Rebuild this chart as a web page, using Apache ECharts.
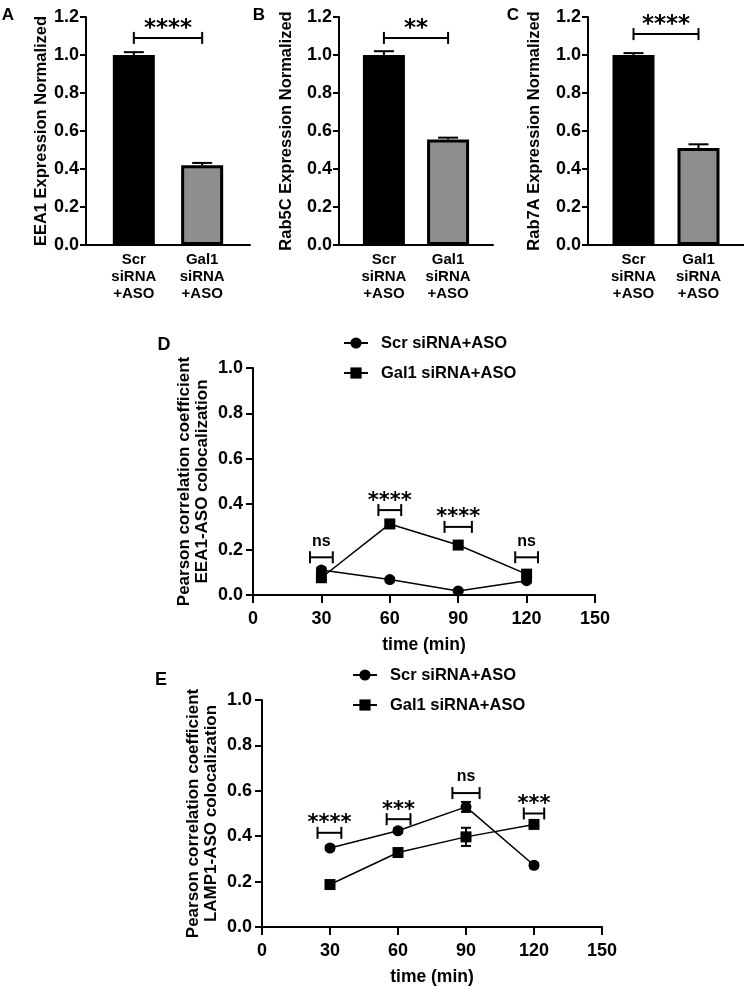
<!DOCTYPE html>
<html><head><meta charset="utf-8">
<script src="https://cdn.jsdelivr.net/npm/echarts@6/dist/echarts.min.js"></script>
<style>html,body{margin:0;padding:0;background:#fff}#c{width:744px;height:988px}</style>
</head><body><div id="c"></div>
<script>
// ---------- data ----------
const barCategories = ['Scr\nsiRNA\n+ASO', 'Gal1\nsiRNA\n+ASO'];
const barTitles = ['EEA1 Expression Normalized', 'Rab5C Expression Normalized', 'Rab7A Expression Normalized'];
const panelLabels = ['A', 'B', 'C', 'D', 'E'];
const eea1Bars = [1.0, 0.42];
const eea1Err = [0.015, 0.012];
const rab5cBars = [1.0, 0.555];
const rab5cErr = [0.02, 0.01];
const rab7aBars = [1.0, 0.51];
const rab7aErr = [0.01, 0.02];
const barSigLabels = ['****', '**', '****'];
const barSigY = [1.09, 1.09, 1.11];

const seriesNames = ['Scr siRNA+ASO', 'Gal1 siRNA+ASO'];
const timePoints = [30, 60, 90, 120];
const eeaScr = [0.11, 0.068, 0.018, 0.063];
const eeaGal = [0.076, 0.313, 0.22, 0.092];
const eeaScrErr = [0.01, 0.008, 0.005, 0.008];
const eeaGalErr = [0.01, 0.01, 0.01, 0.01];
const eeaSig = [['ns', 25, 35, 0.166], ['****', 55, 65, 0.374], ['****', 84, 96, 0.30], ['ns', 115, 125, 0.166]];
const lampScr = [0.348, 0.424, 0.529, 0.272];
const lampGal = [0.187, 0.328, 0.397, 0.452];
const lampScrErr = [0.01, 0.01, 0.022, 0.01];
const lampGalErr = [0.01, 0.01, 0.04, 0.01];
const lampSig = [['****', 24.5, 35, 0.415], ['***', 55, 65.5, 0.475], ['ns', 84, 96, 0.59], ['***', 115.5, 124.5, 0.50]];
const yTitleD = 'Pearson correlation coefficient\nEEA1-ASO colocalization';
const yTitleE = 'Pearson correlation coefficient\nLAMP1-ASO colocalization';
const xTitle = 'time (min)';

// ---------- helpers ----------
const FONT = '"Liberation Sans", Arial, Helvetica, sans-serif';
const STARFONT = '"DejaVu Sans", sans-serif';
const barSets = [[eea1Bars, eea1Err], [rab5cBars, rab5cErr], [rab7aBars, rab7aErr]];

function bracketSeries(idx, items, starSize) {
  return {
    type: 'custom', xAxisIndex: idx, yAxisIndex: idx, silent: true, z: 10, clip: false,
    data: items.map(d => [d[1], d[2], d[3]]),
    renderItem: function (params, api) {
      const lab = items[params.dataIndex][0];
      const p1 = api.coord([api.value(0), api.value(2)]);
      const p2 = api.coord([api.value(1), api.value(2)]);
      const h = 6;
      const st = { stroke: '#000', lineWidth: 2 };
      const isStar = lab.indexOf('*') >= 0;
      return {
        type: 'group', children: [
          { type: 'line', shape: { x1: p1[0], y1: p1[1], x2: p2[0], y2: p2[1] }, style: st },
          { type: 'line', shape: { x1: p1[0], y1: p1[1] - h, x2: p1[0], y2: p1[1] + h }, style: st },
          { type: 'line', shape: { x1: p2[0], y1: p2[1] - h, x2: p2[0], y2: p2[1] + h }, style: st },
          {
            type: 'text', x: (p1[0] + p2[0]) / 2, y: p1[1] - (isStar ? 9 : 16),
            style: {
              text: lab, fill: '#000', align: 'center', verticalAlign: 'middle',
              font: isStar ? ('bold ' + starSize + 'px ' + STARFONT) : ('bold 16px ' + FONT)
            }
          }
        ]
      };
    }
  };
}

function errSeries(idx, xs, means, errs, capW, both) {
  return {
    type: 'custom', xAxisIndex: idx, yAxisIndex: idx, silent: true, z: 5, clip: false,
    data: xs.map((x, i) => [x, both ? means[i] - errs[i] : means[i], means[i] + errs[i]]),
    renderItem: function (params, api) {
      const lo = api.coord([api.value(0), api.value(1)]);
      const hi = api.coord([api.value(0), api.value(2)]);
      const st = { stroke: '#000', lineWidth: 2 };
      const ch = [
        { type: 'line', shape: { x1: lo[0], y1: lo[1], x2: hi[0], y2: hi[1] }, style: st },
        { type: 'line', shape: { x1: hi[0] - capW / 2, y1: hi[1], x2: hi[0] + capW / 2, y2: hi[1] }, style: st }
      ];
      if (both) ch.push({ type: 'line', shape: { x1: lo[0] - capW / 2, y1: lo[1], x2: lo[0] + capW / 2, y2: lo[1] }, style: st });
      return { type: 'group', children: ch };
    }
  };
}

const axisLineStyle = { show: true, lineStyle: { color: '#000', width: 2 } };

const grids = [
  { left: 86, top: 17, width: 164, height: 228 },
  { left: 339, top: 17, width: 154, height: 228 },
  { left: 588, top: 17, width: 156, height: 228 },
  { left: 253, top: 368, width: 342, height: 227 },
  { left: 262, top: 700, width: 340, height: 227 }
].map(g => Object.assign({ containLabel: false, outerBoundsMode: 'none' }, g));

const xAxes = [], yAxes = [], series = [];
const barNameGaps = [36, 44, 45];
for (let i = 0; i < 3; i++) {
  xAxes.push({
    gridIndex: i, type: 'value', min: 0.3, max: 2.7,
    axisLine: axisLineStyle, axisTick: { show: false }, splitLine: { show: false },
    axisLabel: {
      customValues: [1, 2], formatter: v => barCategories[Math.round(v) - 1],
      color: '#000', fontFamily: FONT, fontWeight: 'bold', fontSize: 15, lineHeight: 17, margin: 6
    }
  });
  yAxes.push({
    gridIndex: i, type: 'value', min: 0, max: 1.2, interval: 0.2,
    name: barTitles[i], nameLocation: 'middle', nameRotate: 90, nameGap: barNameGaps[i],
    nameTextStyle: { color: '#000', fontFamily: FONT, fontWeight: 'bold', fontSize: 16.5 },
    axisLine: axisLineStyle, axisTick: { show: true, length: 6, lineStyle: { color: '#000', width: 2 } },
    splitLine: { show: false },
    axisLabel: { color: '#000', fontFamily: FONT, fontWeight: 'bold', fontSize: 18, margin: 7, formatter: v => v.toFixed(1) }
  });
  const vals = barSets[i][0], errs = barSets[i][1];
  series.push({
    type: 'bar', xAxisIndex: i, yAxisIndex: i, barWidth: 42, silent: true,
    data: [
      { value: [1, vals[0]], itemStyle: { color: '#000' } },
      { value: [2, vals[1]], itemStyle: { color: '#8e8e8e', borderColor: '#000', borderWidth: 3 } }
    ]
  });
  series.push(errSeries(i, [1, 2], vals, errs, 20, false));
  series.push(bracketSeries(i, [[barSigLabels[i], 1, 2, barSigY[i]]], 23));
}

const lineSets = [
  [eeaScr, eeaScrErr, eeaGal, eeaGalErr, eeaSig, yTitleD],
  [lampScr, lampScrErr, lampGal, lampGalErr, lampSig, yTitleE]
];
for (let k = 0; k < 2; k++) {
  const i = 3 + k;
  const s = lineSets[k];
  xAxes.push({
    gridIndex: i, type: 'value', min: 0, max: 150, interval: 30,
    name: xTitle, nameLocation: 'middle', nameGap: 41,
    nameTextStyle: { color: '#000', fontFamily: FONT, fontWeight: 'bold', fontSize: 17.5 },
    axisLine: axisLineStyle, axisTick: { show: true, length: 8, lineStyle: { color: '#000', width: 2 } },
    splitLine: { show: false },
    axisLabel: { color: '#000', fontFamily: FONT, fontWeight: 'bold', fontSize: 18, margin: 15 }
  });
  yAxes.push({
    gridIndex: i, type: 'value', min: 0, max: 1, interval: 0.2,
    name: s[5], nameLocation: 'middle', nameRotate: 90, nameGap: 41,
    nameTextStyle: { color: '#000', fontFamily: FONT, fontWeight: 'bold', fontSize: 17, lineHeight: 18.5 },
    axisLine: axisLineStyle, axisTick: { show: true, length: 7, lineStyle: { color: '#000', width: 2 } },
    splitLine: { show: false },
    axisLabel: { color: '#000', fontFamily: FONT, fontWeight: 'bold', fontSize: 18, margin: 10, formatter: v => v.toFixed(1) }
  });
  series.push({
    name: seriesNames[0], type: 'line', xAxisIndex: i, yAxisIndex: i, silent: true, z: 6,
    symbol: 'circle', symbolSize: 11, itemStyle: { color: '#000' }, lineStyle: { color: '#000', width: 1.5 },
    data: timePoints.map((t, j) => [t, s[0][j]])
  });
  series.push({
    name: seriesNames[1], type: 'line', xAxisIndex: i, yAxisIndex: i, silent: true, z: 6,
    symbol: 'rect', symbolSize: 11, itemStyle: { color: '#000' }, lineStyle: { color: '#000', width: 1.5 },
    data: timePoints.map((t, j) => [t, s[2][j]])
  });
  series.push(errSeries(i, timePoints, s[0], s[1], 10, true));
  series.push(errSeries(i, timePoints, s[2], s[3], 10, true));
  series.push(bracketSeries(i, s[4], 21));
}

const legendBase = {
  orient: 'vertical', itemWidth: 24, itemHeight: 14, itemGap: 10, padding: 0,
  selectedMode: false, data: seriesNames,
  textStyle: { color: '#000', fontFamily: FONT, fontWeight: 'bold', fontSize: 16.5, lineHeight: 20, padding: [0, 0, 0, 8] }
};

const panelPos = [[8, 15, 17], [259, 15, 17], [513, 15, 17], [164, 345, 18], [161, 680, 18]];
const graphics = panelLabels.map((t, i) => ({
  type: 'text', x: panelPos[i][0], y: panelPos[i][1],
  style: { text: t, fill: '#000', font: 'bold ' + panelPos[i][2] + 'px ' + FONT, align: 'center', verticalAlign: 'middle' }
}));

const chart = echarts.init(document.getElementById('c'), null, { renderer: 'canvas' });
chart.setOption({
  animation: false,
  backgroundColor: '#fff',
  grid: grids,
  xAxis: xAxes,
  yAxis: yAxes,
  legend: [
    Object.assign({ left: 343, top: 333 }, legendBase),
    Object.assign({ left: 352, top: 665 }, legendBase)
  ],
  graphic: graphics,
  series: series
});
</script></body></html>
